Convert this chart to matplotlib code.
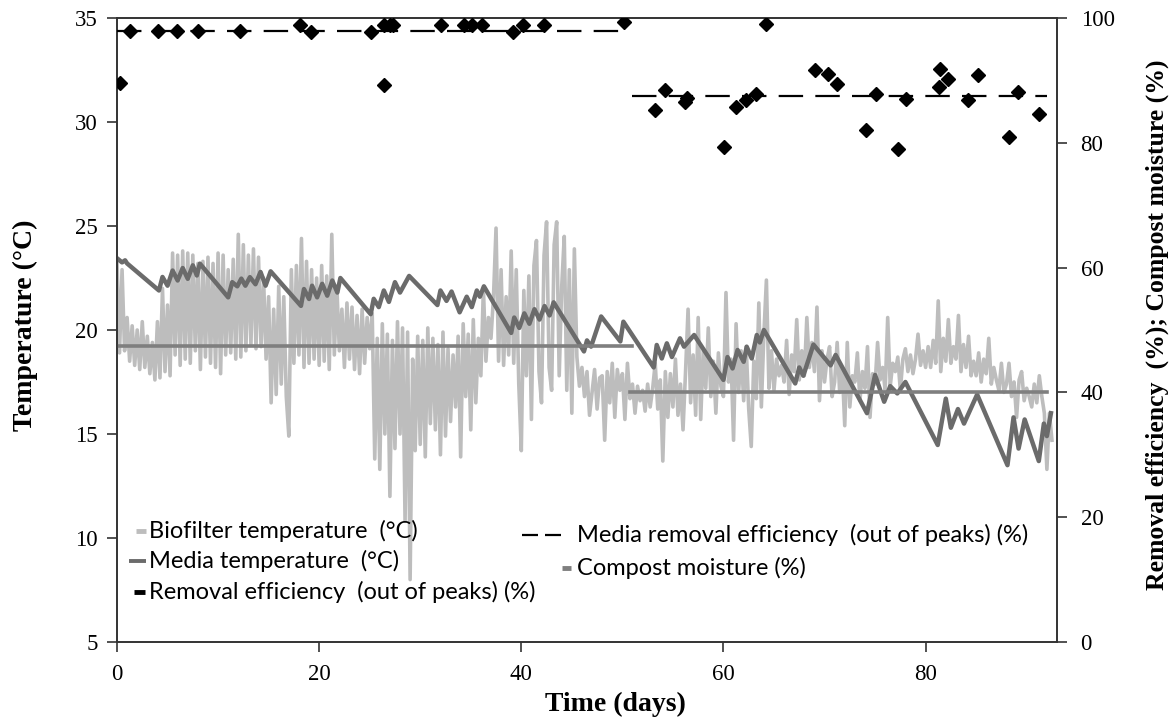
import numpy as np
import matplotlib
matplotlib.use("Agg")
import matplotlib.pyplot as plt
from matplotlib.lines import Line2D

# ---------------- data ----------------
# Biofilter temperature (deg C), sampled every 0.25 day from day 0
bio_temp = [
    23.3, 18.9, 22.9, 19.0,  20.6, 18.5, 20.2, 18.3,  20.0, 18.1, 20.4, 18.2,
    19.7, 17.9, 19.4, 17.6,  20.4, 17.7, 22.0, 18.0,  21.2, 17.8, 23.7, 18.8,
    23.6, 18.3, 23.8, 18.6,  23.7, 18.4, 23.6, 19.0,  23.2, 18.1, 23.3, 18.7,
    23.5, 18.4, 23.2, 18.2,  23.7, 17.9, 23.6, 18.8,  22.9, 18.9, 23.4, 18.6,
    24.6, 18.7, 24.1, 19.0,  23.6, 19.3, 23.9, 19.1,  23.5, 19.2, 22.5, 18.6,
    21.6, 16.5, 21.0, 16.9,  22.1, 17.4, 21.6, 16.8,  14.9, 22.9, 18.4, 23.1,
    18.8, 24.4, 18.2, 23.3,  18.4, 22.9, 18.6, 22.5,  18.3, 23.1, 18.5, 22.6,
    18.1, 24.6, 18.8, 22.1,  19.0, 21.0, 18.2, 21.3,  18.6, 21.1, 18.1, 20.7,
    17.9, 21.0, 18.4, 20.6,  19.1, 20.8, 13.8, 19.6,  13.3, 20.3, 15.0, 19.8,
    12.0, 19.5, 14.3, 20.4,  15.0, 20.1, 10.8, 19.9,  8.0, 18.6, 14.2, 19.7,
    14.5, 19.5, 13.9, 20.1,  15.5, 19.6, 15.2, 19.3,  14.0, 19.9, 14.9, 19.1,
    15.6, 18.8, 16.3, 19.7,  13.9, 20.3, 16.8, 19.8,  15.2, 20.5, 16.5, 19.6,
    17.8, 22.0, 18.5, 20.6,  19.6, 21.6, 24.9, 18.5,  22.9, 18.3, 21.6, 18.8,
    23.8, 18.4, 22.9, 17.4,  14.2, 21.9, 17.8, 22.6,  15.7, 23.1, 24.3, 18.0,
    16.5, 23.6, 25.2, 18.2,  17.1, 24.1, 25.2, 17.8,  22.1, 24.5, 17.1, 22.9,
    16.0, 23.9, 18.7, 17.3,  18.2, 16.8, 18.0, 15.9,  17.0, 18.1, 16.2, 17.7,
    17.8, 14.7, 18.0, 16.5,  18.4, 15.8, 18.1, 17.1,  17.9, 15.7, 18.4, 16.7,
    17.4, 16.0, 17.3, 16.6,  17.1, 16.1, 17.4, 16.3,  17.2, 18.4, 16.2, 17.6,
    13.7, 18.0, 15.8, 17.9,  16.3, 18.6, 15.9, 17.4,  15.2, 18.0, 21.0, 16.5,
    18.8, 15.9, 20.6, 15.7,  19.0, 17.2, 20.1, 16.8,  18.5, 16.0, 18.9, 17.3,
    16.8, 21.8, 17.5, 18.6,  14.7, 20.3, 17.0, 19.0,  16.6, 19.2, 16.2, 14.4,
    18.5, 16.7, 21.3, 16.3,  19.8, 22.4, 17.2, 19.0,  17.1, 18.6, 17.8, 18.3,
    17.5, 19.5, 16.9, 18.8,  18.0, 20.5, 17.6, 19.0,  17.8, 20.6, 18.2, 19.4,
    18.0, 21.1, 16.6, 19.0,  17.5, 18.6, 19.2, 16.8,  17.5, 19.4, 17.0, 18.2,
    15.4, 19.4, 16.3, 17.8,  17.5, 18.9, 16.6, 18.0,  17.2, 19.2, 15.8, 17.9,
    17.4, 19.4, 17.6, 18.2,  17.1, 20.6, 17.3, 18.4,  18.0, 18.7, 17.1, 18.6,
    19.1, 18.0, 18.8, 17.9,  18.6, 19.8, 18.3, 19.0,  18.2, 19.2, 18.2, 19.5,
    18.4, 21.4, 18.0, 19.6,  18.5, 20.5, 18.4, 19.2,  18.6, 20.7, 18.0, 19.3,
    18.2, 19.7, 17.8, 18.5,  17.8, 18.9, 17.5, 18.6,  17.9, 19.6, 17.4, 18.2,
    17.6, 17.1, 18.4, 17.0,  17.4, 18.4, 16.8, 17.5,  15.8, 17.6, 18.0, 16.6,
    17.2, 16.8, 16.3, 17.4,  16.5, 17.8, 16.8, 16.0,  13.3, 16.0, 14.7,
]
bio_day = np.arange(len(bio_temp)) * 0.25

# Media temperature (deg C): vertices of the saw-tooth record
media_day = [0.0, 0.5, 0.8, 1.0, 4.15, 4.5, 5.0, 5.5, 6.0, 6.5, 7.0, 7.5, 7.9, 8.2,
             11.0, 11.4, 11.9, 12.3, 12.7, 13.15, 13.7, 14.2, 14.7, 15.2,
             18.2, 18.5, 19.0, 19.3, 19.8, 20.3, 20.8, 21.3, 21.8, 22.1,
             25.1, 25.4, 25.9, 26.4, 26.9, 27.5, 28.0, 28.9,
             31.7, 32.0, 32.6, 33.1, 33.9, 34.6, 35.1, 35.6, 35.9, 36.3,
             39.0, 39.3, 39.8, 40.3, 40.8, 41.3, 41.8, 42.3, 42.8, 43.2,
             46.2, 46.5, 46.9, 47.9, 49.8, 50.1,
             53.1, 53.4, 53.9, 54.4, 54.9, 55.7, 56.1, 57.1,
             60.0, 60.4, 60.9, 61.4, 62.0, 62.3, 62.8, 63.3, 63.6, 64.0,
             67.1, 67.5, 67.9, 68.9, 70.6, 71.1,
             74.2, 75.0, 75.9, 76.5, 77.2, 78.0,
             81.2, 82.0, 82.5, 83.2, 83.8, 85.1,
             88.1, 88.7, 89.2, 89.8, 91.2, 91.7, 92.0, 92.4]
media_temp = [23.45, 23.25, 23.35, 23.2, 21.9, 22.55, 22.13, 22.86, 22.38, 22.98, 22.46, 23.11, 22.62, 23.19,
              21.57, 22.3, 22.1, 22.47, 22.13, 22.54, 22.2, 22.79, 22.13, 22.82,
              21.16, 21.97, 21.49, 22.13, 21.57, 22.22, 21.65, 22.38, 21.8, 22.5,
              20.76, 21.5, 21.1, 21.9, 21.35, 22.3, 21.8, 22.6,
              21.2, 21.9, 21.4, 21.85, 20.85, 21.6, 21.1, 21.9, 21.6, 22.1,
              19.86, 20.6, 20.1, 20.8, 20.3, 21.0, 20.5, 21.15, 20.7, 21.33,
              18.97, 19.5, 19.2, 20.65, 19.45, 20.4,
              18.2, 19.28, 18.63, 19.36, 18.7, 19.6, 19.2, 19.76,
              17.6, 18.7, 18.15, 19.04, 18.47, 19.2, 18.63, 19.76, 19.4, 20.0,
              17.43, 18.2, 17.8, 19.3, 18.3, 18.8,
              16.0, 17.84, 16.55, 17.3, 16.95, 17.5,
              14.47, 16.7, 15.3, 16.2, 15.5, 16.9,
              13.5, 15.8, 14.3, 15.7, 13.7, 15.5, 14.9, 16.0]

# Compost moisture (%), two periods
compost_day_1 = [0.0, 51.0]
compost_pct_1 = [47.5, 47.5]
compost_day_2 = [50.8, 92.0]
compost_pct_2 = [40.0, 40.0]

# Removal efficiency out of peaks (%)
re_day = [0.26, 1.3, 4.1, 5.9, 8.0, 12.2, 18.1, 19.2, 25.1, 26.4, 26.4, 27.0, 27.3,
          32.1, 34.3, 35.1, 36.1, 39.2, 40.2, 42.2, 50.2, 64.2,
          53.2, 54.2, 56.2, 56.4, 60.1, 61.2, 62.2, 63.2, 69.1, 70.3, 71.2, 74.1,
          75.1, 77.3, 78.1, 81.3, 81.4, 82.2, 84.2, 85.2, 88.3, 89.1, 91.2]
re_pct = [89.6, 97.9, 97.9, 97.9, 97.9, 97.9, 98.9, 97.8, 97.8, 98.9, 89.3, 98.9, 98.9,
          98.9, 98.9, 98.9, 98.9, 97.8, 98.9, 98.9, 99.4, 99.0,
          85.3, 88.5, 86.6, 87.1, 79.4, 85.7, 86.9, 87.8, 91.6, 91.0, 89.5, 82.1,
          87.9, 79.0, 87.0, 88.9, 91.8, 90.2, 86.8, 90.9, 81.0, 88.1, 84.6]

# Media removal efficiency (out of peaks) (%), mean of each period
mre_day_1 = [0.0, 50.2]
mre_pct_1 = [97.9, 97.9]
mre_day_2 = [51.0, 92.0]
mre_pct_2 = [87.5, 87.5]

legend_labels = ["Biofilter temperature  (°C)", "Media temperature  (°C)",
                 "Removal efficiency  (out of peaks) (%)",
                 "Media removal efficiency  (out of peaks) (%)", "Compost moisture (%)"]

# ---------------- style ----------------
W, H = 1176, 722
c_bio = "#bdbdbd"
c_media = "#6b6b6b"
c_comp = "#7f7f7f"
serif = ["Liberation Serif", "DejaVu Serif"]
sans = ["Lato", "DejaVu Sans"]

fig = plt.figure(figsize=(W / 100, H / 100), dpi=100)
L, R, T, B = 117, 1057, 18, 642
ax = fig.add_axes([L / W, 1 - B / H, (R - L) / W, (B - T) / H])
ax2 = ax.twinx()

ax.plot(bio_day, bio_temp, color=c_bio, lw=2.6, zorder=1)
ax.plot(media_day, media_temp, color=c_media, lw=3.2, zorder=3)

ax2.plot(compost_day_1, compost_pct_1, color=c_comp, lw=2.6, zorder=2)
ax2.plot(compost_day_2, compost_pct_2, color=c_comp, lw=2.6, zorder=2)
ax2.plot(mre_day_1, mre_pct_1, color="black", lw=1.6, ls=(0, (11, 5.5)), zorder=3)
ax2.plot(mre_day_2, mre_pct_2, color="black", lw=1.6, ls=(0, (11, 5.5)), zorder=3)
ax2.plot(re_day, re_pct, ls="none", marker="D", ms=7, color="black", zorder=4)

ax.set_xlim(0, 93)
ax.set_ylim(5, 35)
ax2.set_ylim(0, 100)
ax.set_xticks([0, 20, 40, 60, 80])
ax.set_yticks([5, 10, 15, 20, 25, 30, 35])
ax2.set_yticks([0, 20, 40, 60, 80, 100])

for a in (ax, ax2):
    for s in a.spines.values():
        s.set_linewidth(1.2)
        s.set_color("#333333")
    a.tick_params(direction="out", length=7, width=1.2, color="#333333",
                  labelsize=16.5, pad=7)
    for lab in a.get_xticklabels() + a.get_yticklabels():
        lab.set_fontfamily(serif)
ax.tick_params(axis="x", pad=9)
ax2.tick_params(axis="y", pad=10)

fig.text(25 / W, 1 - 325 / H, "Temperature (°C)", rotation=90, ha="center", va="center",
         fontsize=20, fontweight="bold", family=serif)
fig.text(1157 / W, 1 - 325 / H, "Removal efficiency  (%); Compost moisture (%)", rotation=90,
         ha="center", va="center", fontsize=18.5, fontweight="bold", family=serif)
fig.text(615 / W, 1 - 704 / H, "Time (days)", ha="center", va="center",
         fontsize=20, fontweight="bold", family=serif)

# ---------------- legend (drawn manually) ----------------
def px(x, y):
    return x / W, 1 - y / H

def handle(x0, x1, y, **kw):
    (a0, b0), (a1, b1) = px(x0, y), px(x1, y)
    fig.add_artist(Line2D([a0, a1], [b0, b1], transform=fig.transFigure, **kw))

leg_fs = 17
rows1 = [531, 561, 592]
handle(136, 146, rows1[0], color=c_bio, lw=3.5, solid_capstyle="butt")
handle(129, 146, rows1[1], color=c_media, lw=2.8, solid_capstyle="butt")
handle(134, 145, rows1[2], color="black", lw=3.5, solid_capstyle="butt")
for y, lab in zip(rows1, legend_labels[:3]):
    fig.text(*px(149, y), lab, ha="left", va="center", fontsize=leg_fs, family=sans)

rows2 = [535, 568]
handle(522, 538, rows2[0], color="black", lw=1.6, solid_capstyle="butt")
handle(545, 561, rows2[0], color="black", lw=1.6, solid_capstyle="butt")
handle(562, 571, rows2[1], color=c_comp, lw=3.5, solid_capstyle="butt")
for y, lab in zip(rows2, legend_labels[3:]):
    fig.text(*px(577, y), lab, ha="left", va="center", fontsize=leg_fs, family=sans)

fig.savefig("out.png", dpi=100)
